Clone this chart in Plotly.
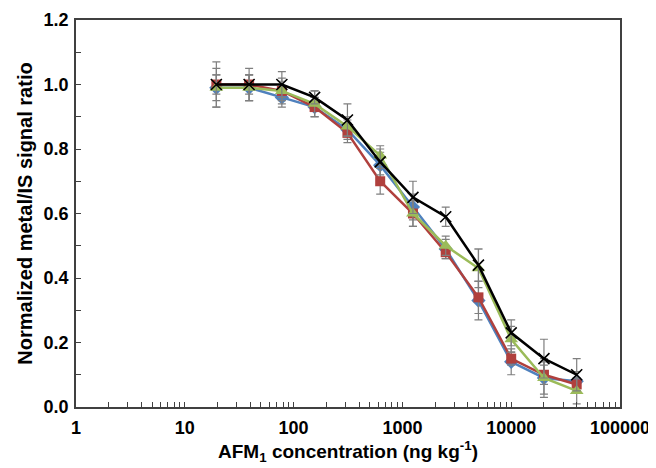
import plotly.graph_objects as go

conc = [19.5, 39, 78, 156, 312.5, 625, 1250, 2500, 5000, 10000, 20000, 40000]

blue_vals = [0.99, 0.99, 0.96, 0.93, 0.86, 0.75, 0.62, 0.49, 0.33, 0.14, 0.09, 0.08]
red_vals = [1.00, 1.00, 0.98, 0.93, 0.85, 0.70, 0.60, 0.48, 0.34, 0.15, 0.10, 0.07]
green_vals = [0.99, 0.99, 0.98, 0.94, 0.87, 0.78, 0.60, 0.50, 0.43, 0.21, 0.09, 0.05]
black_vals = [1.00, 1.00, 1.00, 0.96, 0.89, 0.76, 0.65, 0.59, 0.44, 0.23, 0.15, 0.10]

blue_err = [0.04, 0.04, 0.03, 0.03, 0.03, 0.04, 0.04, 0.03, 0.06, 0.04, 0.05, 0.03]
red_err = [0.07, 0.05, 0.04, 0.03, 0.03, 0.04, 0.04, 0.02, 0.05, 0.02, 0.03, 0.02]
green_err = [0.06, 0.04, 0.03, 0.04, 0.03, 0.03, 0.04, 0.03, 0.06, 0.04, 0.06, 0.04]
black_err = [0.03, 0.03, 0.04, 0.02, 0.05, 0.04, 0.05, 0.03, 0.05, 0.04, 0.06, 0.05]

x_major = [1, 10, 100, 1000, 10000, 100000]
x_major_text = ["1", "10", "100", "1000", "10000", "100000"]
y_major = [0.0, 0.2, 0.4, 0.6, 0.8, 1.0, 1.2]

x_minor = [m * d for d in [1, 10, 100, 1000, 10000] for m in range(2, 10)]

err_style = dict(type="data", visible=True, color="#7f7f7f", thickness=1.2, width=4)

series = [
    ("blue", blue_vals, blue_err, "#4F81BD", dict(symbol="diamond", size=11)),
    ("red", red_vals, red_err, "#B0403D", dict(symbol="square", size=10)),
    ("green", green_vals, green_err, "#9BBB59", dict(symbol="triangle-up", size=12)),
    ("black", black_vals, black_err, "#000000", dict(symbol="x-thin", size=11, line=dict(width=1.6, color="#000000"))),
]

fig = go.Figure()
for name, vals, err, col, mk in series:
    marker = dict(color=col, **mk)
    fig.add_trace(go.Scatter(
        x=conc, y=vals, name=name, mode="lines+markers",
        line=dict(color=col, width=2.5),
        marker=marker,
        error_y=dict(array=err, **err_style),
    ))

FAM = "Liberation Sans, Arial, sans-serif"
tick_font = dict(family=FAM, size=18, color="#000000")
xtitle_font = dict(family=FAM, size=19, color="#000000")
ytitle_font = dict(family=FAM, size=20, color="#000000")

# page body has an 8px margin; figure fits in the window, plot area spans page x 76..620, y 20..407
fig.update_layout(
    width=648, height=460,
    margin=dict(l=68, r=36, t=12, b=61),
    paper_bgcolor="white", plot_bgcolor="white",
    showlegend=False,
    font=tick_font,
)
fig.update_xaxes(
    type="log", range=[0, 5],
    tickmode="array", tickvals=x_major, ticktext=["<b>%s</b>" % t for t in x_major_text],
    ticks="inside", ticklen=5, tickwidth=1, tickcolor="#404040",
    minor=dict(tickmode="array", tickvals=x_minor, ticks="inside", ticklen=5, tickwidth=1, tickcolor="#404040"),
    showline=True, linecolor="#404040", linewidth=1.5, mirror=True,
    showgrid=False, zeroline=False,
    tickfont=tick_font, ticklabelstandoff=4,
    title=dict(text="<b>AFM<sub>1</sub> concentration (ng kg<sup>-1</sup>)</b>", font=xtitle_font, standoff=6),
    automargin=False,
)
fig.update_yaxes(
    range=[0, 1.2],
    tickmode="array", tickvals=y_major, ticktext=["<b>%.1f</b>" % v for v in y_major],
    ticks="inside", ticklen=5, tickwidth=1, tickcolor="#404040",
    minor=dict(dtick=0.1, ticks="inside", ticklen=5, tickwidth=1, tickcolor="#404040"),
    showline=True, linecolor="#404040", linewidth=1.5, mirror=True,
    showgrid=False, zeroline=False,
    tickfont=tick_font, ticklabelstandoff=2,
    title=dict(text="<b>Normalized metal/IS signal ratio</b>", font=ytitle_font, standoff=6),
    automargin=False,
)

fig.write_html("out.html")
